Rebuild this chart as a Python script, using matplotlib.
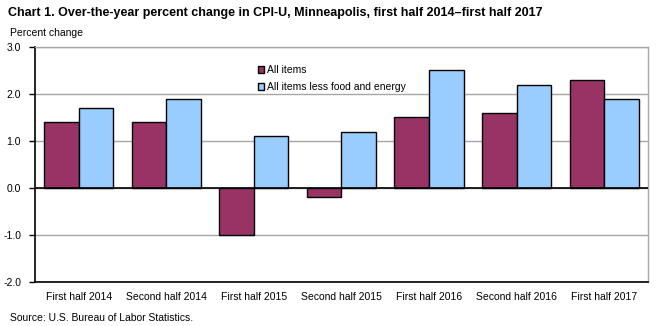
import matplotlib.pyplot as plt
import numpy as np

plt.rcParams['font.family'] = ['Liberation Sans', 'DejaVu Sans']

categories = ["First half 2014", "Second half 2014", "First half 2015", "Second half 2015",
              "First half 2016", "Second half 2016", "First half 2017"]
all_items = [1.4, 1.4, -1.0, -0.2, 1.5, 1.6, 2.3]
core_items = [1.7, 1.9, 1.1, 1.2, 2.5, 2.2, 1.9]
series_names = ["All items", "All items less food and energy"]
yticks = [-2.0, -1.0, 0.0, 1.0, 2.0, 3.0]

fig = plt.figure(figsize=(6.59, 3.26), dpi=100)
ax = fig.add_axes([0.0531, 0.135, 0.930, 0.721])

x = np.arange(len(categories))
w = 0.395
ax.bar(x - w / 2, all_items, w, color="#993366", edgecolor="black", linewidth=1, label=series_names[0], zorder=3)
ax.bar(x + w / 2, core_items, w, color="#99CCFF", edgecolor="black", linewidth=1, label=series_names[1], zorder=3)

ax.set_xlim(-0.5, len(categories) - 0.5)
ax.set_ylim(-2.0, 3.0)
ax.set_yticks(yticks)
ax.set_yticklabels([f"{v:.1f}" for v in yticks], fontsize=7.5)
ax.set_xticks(x)
ax.set_xticklabels(categories, fontsize=7.5)
ax.tick_params(axis="x", length=0, pad=7)
ax.tick_params(axis="y", length=4, width=1, pad=6, direction="out")
ax.grid(axis="y", color="#a6a6a6", linewidth=1, zorder=0)
ax.axhline(0, color="black", linewidth=1.2, zorder=4)

for s in ["top", "right"]:
    ax.spines[s].set_color("#a6a6a6")
    ax.spines[s].set_linewidth(1)
ax.spines["left"].set_color("black")
ax.spines["left"].set_linewidth(1.2)
ax.spines["bottom"].set_color("black")
ax.spines["bottom"].set_linewidth(1.2)

ax.legend(loc="upper left", bbox_to_anchor=(0.355, 0.945), frameon=False, fontsize=7.5,
          handlelength=0.6, handleheight=0.6, handletextpad=0.3, labelspacing=0.7, borderpad=0)

fig.text(0.012, 0.96, "Chart 1. Over-the-year percent change in CPI-U, Minneapolis, first half 2014\u2013first half 2017",
         fontsize=9, fontweight="bold", ha="left", va="center")
fig.text(0.015, 0.899, "Percent change", fontsize=7.5, ha="left", va="center")
fig.text(0.015, 0.025, "Source: U.S. Bureau of Labor Statistics.", fontsize=7.5, ha="left", va="center")

fig.savefig("out.png", dpi=100)
